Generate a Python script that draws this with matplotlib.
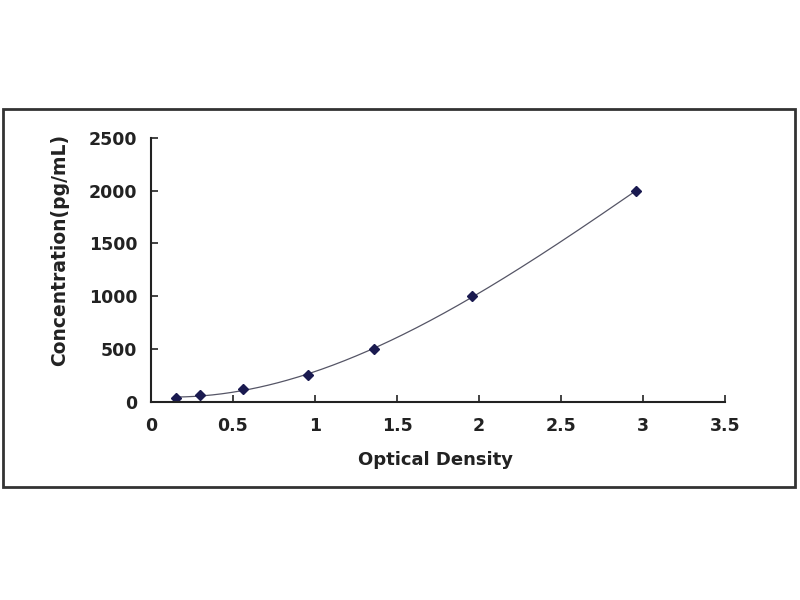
import numpy as np
import matplotlib
matplotlib.use("Agg")
import matplotlib.pyplot as plt
from matplotlib.patches import Rectangle

od = [0.15, 0.30, 0.56, 0.96, 1.36, 1.96, 2.96]
conc = [31.25, 62.5, 125, 250, 500, 1000, 2000]
xticks = [0, 0.5, 1, 1.5, 2, 2.5, 3, 3.5]
yticks = [0, 500, 1000, 1500, 2000, 2500]

plt.rcParams['font.family'] = ['DejaVu Sans']

fig = plt.figure(figsize=(8, 6), dpi=100)
fig.patches.append(Rectangle((3/800, 113/600), 792/800, 378/600, transform=fig.transFigure,
                             fill=False, edgecolor='#333333', linewidth=2.0))
ax = fig.add_axes([151/800, 1-401.7/600, 574/800, 264/600])

coef = np.polyfit(od, conc, 3)
xs = np.linspace(od[0], od[-1], 200)
ax.plot(xs, np.polyval(coef, xs), color='#555566', linewidth=0.9)
ax.plot(od, conc, linestyle='none', marker='D', markersize=5, color='#1a1a50')

ax.set_xlim(0, 3.5)
ax.set_ylim(0, 2500)
ax.set_xticks(xticks)
ax.set_xticklabels([f"{t:g}" for t in xticks])
ax.set_yticks(yticks)
ax.set_yticklabels([str(t) for t in yticks])
for s in ['top', 'right']:
    ax.spines[s].set_visible(False)
for s in ['left', 'bottom']:
    ax.spines[s].set_linewidth(1.5)
    ax.spines[s].set_color('#222222')
ax.tick_params(direction='in', length=5, width=1.2, colors='#222222', labelsize=12.5)
ax.tick_params(axis='x', pad=11)
ax.tick_params(axis='y', pad=10)
for lab in ax.get_xticklabels() + ax.get_yticklabels():
    lab.set_fontweight('bold')
    lab.set_color('#222222')
xl = ax.set_xlabel('Optical Density', fontsize=13, fontweight='bold', color='#222222')
yl = ax.set_ylabel('Concentration(pg/mL)', fontsize=13.5, fontweight='bold', color='#222222')
ax.xaxis.set_label_coords(0.4965, (401.7-460)/264)
xl.set_va('center')
ax.yaxis.set_label_coords((60-151)/574, (401.7-250)/264)
yl.set_va('center')
yl.set_ha('center')

fig.savefig('out.png', dpi=100)
